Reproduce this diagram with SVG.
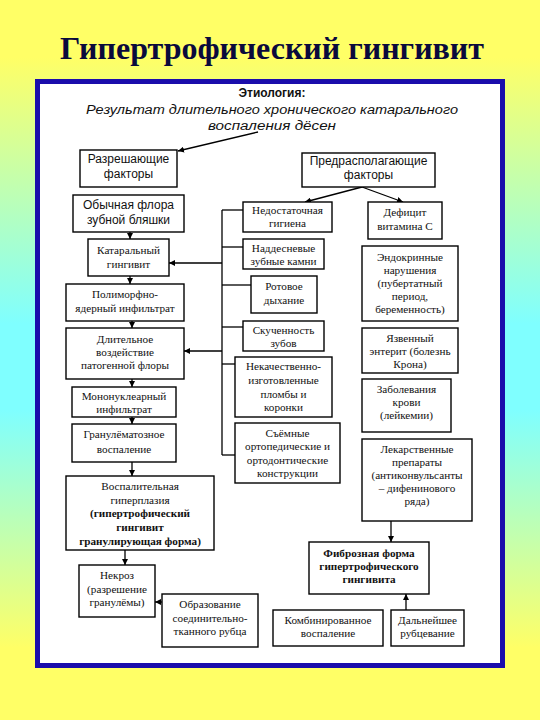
<svg xmlns="http://www.w3.org/2000/svg" width="540" height="720" viewBox="0 0 540 720">
<defs>
<linearGradient id="bg" x1="0" y1="0" x2="0" y2="1">
<stop offset="0" stop-color="#FFFF66"/>
<stop offset="0.08" stop-color="#FFFF66"/>
<stop offset="0.45" stop-color="#7FFFFF"/>
<stop offset="0.57" stop-color="#7FFFFF"/>
<stop offset="0.9" stop-color="#FFFF66"/>
<stop offset="1" stop-color="#FFFF66"/>
</linearGradient>
<marker id="ar" markerUnits="userSpaceOnUse" markerWidth="7" markerHeight="6" refX="6" refY="3" orient="auto">
<path d="M0,0 L6,3 L0,6 z" fill="#000"/>
</marker>
</defs>
<style>
.b{fill:#fff;stroke:#000;stroke-width:1.4}
.s{font-family:"Liberation Serif","Times New Roman",serif;font-size:11.2px;text-anchor:middle;fill:#111}
.a{font-family:"Liberation Sans",Arial,sans-serif;font-size:12px;text-anchor:middle;fill:#111}
.bold{font-weight:bold}
.c{stroke:#000;stroke-width:1.3;fill:none}
.ca{stroke:#000;stroke-width:1.3;fill:none;marker-end:url(#ar)}
</style>
<rect x="0" y="0" width="540" height="720" fill="url(#bg)"/>
<text x="272" y="59" font-family="Liberation Serif,'Times New Roman',serif" font-size="32" font-weight="bold" fill="#0A0A3C" text-anchor="middle">Гипертрофический гингивит</text>
<rect x="37.5" y="81.5" width="465" height="584" fill="#fff" stroke="#1A0DAB" stroke-width="5"/>

<g id="header">
<text x="272" y="97" class="a bold" font-size="14">Этиология:</text>
<text x="272" y="114" class="a" font-size="15" font-style="italic" textLength="372" lengthAdjust="spacingAndGlyphs">Результат длительного хронического катарального</text>
<text x="272" y="130" class="a" font-size="15" font-style="italic" textLength="128" lengthAdjust="spacingAndGlyphs">воспаления дёсен</text>
</g>

<g id="connectors">
<line class="ca" x1="258" y1="132" x2="178" y2="151"/>
<line class="ca" x1="362" y1="187" x2="305" y2="202"/>
<line class="ca" x1="362" y1="187" x2="403" y2="202"/>
<line class="ca" x1="130" y1="232" x2="130" y2="239"/>
<line class="ca" x1="130" y1="276" x2="130" y2="284"/>
<line class="ca" x1="132" y1="321" x2="132" y2="328"/>
<line class="ca" x1="132" y1="379" x2="132" y2="387"/>
<line class="ca" x1="132" y1="417" x2="132" y2="424"/>
<line class="ca" x1="132" y1="462" x2="132" y2="476"/>
<line class="ca" x1="125" y1="550" x2="125" y2="565"/>
<line class="ca" x1="162" y1="602" x2="155" y2="602"/>
<line class="c" x1="222" y1="210" x2="222" y2="455"/>
<line class="c" x1="222" y1="210" x2="243" y2="210"/>
<line class="c" x1="222" y1="247" x2="243" y2="247"/>
<line class="c" x1="222" y1="285" x2="251" y2="285"/>
<line class="c" x1="222" y1="327" x2="243" y2="327"/>
<line class="c" x1="222" y1="364" x2="235" y2="364"/>
<line class="c" x1="222" y1="455" x2="235" y2="455"/>
<line class="ca" x1="222" y1="263" x2="169" y2="263"/>
<line class="ca" x1="222" y1="351" x2="184" y2="351"/>
<line class="ca" x1="391" y1="521" x2="391" y2="542"/>
<line class="ca" x1="406" y1="610" x2="406" y2="594"/>
</g>

<g id="n-razresh"><rect class="b" x="80" y="150" width="97" height="37"/>
<text class="a" x="128.5" y="163">Разрешающие</text><text class="a" x="128.5" y="178">факторы</text></g>
<g id="n-predrasp"><rect class="b" x="302" y="153" width="133" height="34"/>
<text class="a" x="368.5" y="165">Предрасполагающие</text><text class="a" x="368.5" y="179">факторы</text></g>
<g id="n-flora"><rect class="b" x="73" y="195" width="111" height="37"/>
<text class="a" x="128.5" y="209">Обычная флора</text><text class="a" x="128.5" y="224">зубной бляшки</text></g>
<g id="n-kataral"><rect class="b" x="88" y="239" width="81" height="37"/>
<text class="s" x="128.5" y="254">Катаральный</text><text class="s" x="128.5" y="268">гингивит</text></g>
<g id="n-polimorf"><rect class="b" x="66" y="284" width="118" height="37"/>
<text class="s" x="125" y="298">Полиморфно-</text><text class="s" x="125" y="312">ядерный инфильтрат</text></g>
<g id="n-dlitel"><rect class="b" x="66" y="328" width="118" height="51"/>
<text class="s" x="125" y="343">Длительное</text><text class="s" x="125" y="356">воздействие</text><text class="s" x="125" y="369">патогенной флоры</text></g>
<g id="n-mononukl"><rect class="b" x="72" y="387" width="104" height="30"/>
<text class="s" x="124" y="400">Мононуклеарный</text><text class="s" x="124" y="413">инфильтрат</text></g>
<g id="n-granulem"><rect class="b" x="72" y="424" width="104" height="38"/>
<text class="s" x="124" y="438">Гранулёматозное</text><text class="s" x="124" y="453">воспаление</text></g>
<g id="n-vospalit"><rect class="b" x="66" y="476" width="148" height="74"/>
<text class="s" x="140" y="490">Воспалительная</text><text class="s" x="140" y="504">гиперплазия</text>
<text class="s bold" x="140" y="517">(гипертрофический</text><text class="s bold" x="140" y="531">гингивит</text><text class="s bold" x="140" y="545">гранулирующая  форма)</text></g>
<g id="n-nekroz"><rect class="b" x="79" y="565" width="76" height="52"/>
<text class="s" x="117" y="579">Некроз</text><text class="s" x="117" y="593">(разрешение</text><text class="s" x="117" y="606">гранулёмы)</text></g>
<g id="n-obrazov"><rect class="b" x="162" y="594" width="96" height="53"/>
<text class="s" x="210" y="608">Образование</text><text class="s" x="210" y="622">соединительно-</text><text class="s" x="210" y="635">тканного рубца</text></g>
<g id="n-nedost"><rect class="b" x="243" y="202" width="89" height="30"/>
<text class="s" x="287.5" y="214">Недостаточная</text><text class="s" x="287.5" y="227">гигиена</text></g>
<g id="n-deficit"><rect class="b" x="368" y="202" width="74" height="37"/>
<text class="s" x="405" y="216">Дефицит</text><text class="s" x="405" y="230">витамина С</text></g>
<g id="n-naddesn"><rect class="b" x="243" y="239" width="81" height="30"/>
<text class="s" x="283.5" y="252">Наддесневые</text><text class="s" x="283.5" y="265">зубные камни</text></g>
<g id="n-endokr"><rect class="b" x="362" y="246" width="96" height="75"/>
<text class="s" x="410" y="261">Эндокринные</text><text class="s" x="410" y="274">нарушения</text><text class="s" x="410" y="287">(пубертатный</text><text class="s" x="410" y="300">период,</text><text class="s" x="410" y="313">беременность)</text></g>
<g id="n-rotovoe"><rect class="b" x="251" y="276" width="66" height="37"/>
<text class="s" x="284" y="290">Ротовое</text><text class="s" x="284" y="304">дыхание</text></g>
<g id="n-skuchen"><rect class="b" x="243" y="321" width="81" height="30"/>
<text class="s" x="283.5" y="334">Скученность</text><text class="s" x="283.5" y="347">зубов</text></g>
<g id="n-yazven"><rect class="b" x="362" y="328" width="96" height="45"/>
<text class="s" x="410" y="342">Язвенный</text><text class="s" x="410" y="355">энтерит (болезнь</text><text class="s" x="410" y="368">Крона)</text></g>
<g id="n-nekach"><rect class="b" x="235" y="357" width="97" height="60"/>
<text class="s" x="283.5" y="370">Некачественно-</text><text class="s" x="283.5" y="384">изготовленные</text><text class="s" x="283.5" y="398">пломбы и</text><text class="s" x="283.5" y="411">коронки</text></g>
<g id="n-zabol"><rect class="b" x="362" y="379" width="89" height="53"/>
<text class="s" x="406.5" y="393">Заболевания</text><text class="s" x="406.5" y="406">крови</text><text class="s" x="406.5" y="419">(лейкемии)</text></g>
<g id="n-syomn"><rect class="b" x="235" y="423" width="105" height="60"/>
<text class="s" x="287.5" y="437">Съёмные</text><text class="s" x="287.5" y="450">ортопедические и</text><text class="s" x="287.5" y="464">ортодонтические</text><text class="s" x="287.5" y="477">конструкции</text></g>
<g id="n-lekarst"><rect class="b" x="362" y="439" width="110" height="82"/>
<text class="s" x="417" y="453">Лекарственные</text><text class="s" x="417" y="466">препараты</text><text class="s" x="417" y="479">(антиконвульсанты</text><text class="s" x="417" y="492">– дифенинового</text><text class="s" x="417" y="505">ряда)</text></g>
<g id="n-fibroz"><rect class="b" x="309" y="542" width="120" height="52"/>
<text class="s bold" x="369" y="557">Фиброзная форма</text><text class="s bold" x="369" y="570">гипертрофического</text><text class="s bold" x="369" y="583">гингивита</text></g>
<g id="n-kombin"><rect class="b" x="273" y="610" width="110" height="36"/>
<text class="s" x="328" y="624">Комбинированное</text><text class="s" x="328" y="637">воспаление</text></g>
<g id="n-daln"><rect class="b" x="391" y="610" width="73" height="36"/>
<text class="s" x="427.5" y="624">Дальнейшее</text><text class="s" x="427.5" y="637">рубцевание</text></g>
</svg>
